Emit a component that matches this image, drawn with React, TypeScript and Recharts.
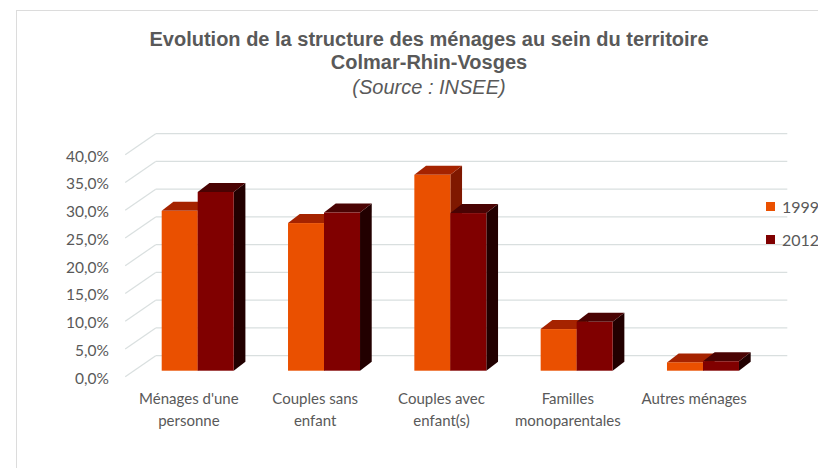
import React from "react";
import { BarChart, Bar, XAxis, YAxis, CartesianGrid } from "recharts";

const categories = [
  "Ménages d'une personne",
  "Couples sans enfant",
  "Couples avec enfant(s)",
  "Familles monoparentales",
  "Autres ménages",
];
const values1999 = [28.8, 26.6, 35.3, 7.5, 1.5];
const values2012 = [32.2, 28.5, 28.4, 8.8, 1.7];
const yTicks = [0, 5, 10, 15, 20, 25, 30, 35, 40];
const seriesNames = ["1999", "2012"];

const data = categories.map((name, i) => ({
  name,
  y1999: values1999[i],
  y2012: values2012[i],
}));

// fake 3D: depth of each column, and offsets from the column plane to the back wall / front edge
const DX = 11.7;
const DY = 9;
const WALL_DX = 21;
const WALL_DY = 15;
const FRONT_DX = 9.5;
const FRONT_DY = 6;

const TEXT = "#595959";
const GRID = "#d9dfdf";
const LABEL_FONT = "Lato, 'Open Sans', sans-serif";

const colors = {
  y1999: { front: "#ea5000", top: "#a52300", side: "#7f1800" },
  y2012: { front: "#800000", top: "#4a0303", side: "#220000" },
};

const fmtPct = (v: number) => v.toFixed(1).replace(".", ",") + "%";

function wrap(label: string, max = 14): string[] {
  const lines: string[] = [];
  let cur = "";
  for (const w of label.split(" ")) {
    if (!cur) cur = w;
    else if ((cur + " " + w).length <= max) cur += " " + w;
    else {
      lines.push(cur);
      cur = w;
    }
  }
  if (cur) lines.push(cur);
  return lines;
}

const makeShape = (c: { front: string; top: string; side: string }) => (props: any) => {
  const { x, y, width, height } = props;
  if (width == null || height == null) return <g />;
  const top = `${x},${y} ${x + DX},${y - DY} ${x + width + DX},${y - DY} ${x + width},${y}`;
  const side = `${x + width},${y} ${x + width + DX},${y - DY} ${x + width + DX},${y + height - DY} ${x + width},${y + height}`;
  return (
    <g>
      <polygon points={side} fill={c.side} />
      <polygon points={top} fill={c.top} />
      <rect x={x} y={y} width={width} height={height} fill={c.front} />
    </g>
  );
};

const gridLine = (props: any) => {
  const { x1, x2, y1, index } = props;
  return (
    <g key={`grid-${index}-${y1}`}>
      <line
        x1={x1 - FRONT_DX}
        y1={y1 + FRONT_DY}
        x2={x1 + WALL_DX}
        y2={y1 - WALL_DY}
        stroke={GRID}
        strokeWidth={1.2}
      />
      <line
        x1={x1 + WALL_DX}
        y1={y1 - WALL_DY}
        x2={x2 + WALL_DX}
        y2={y1 - WALL_DY}
        stroke={GRID}
        strokeWidth={1.2}
      />
    </g>
  );
};

const YTick = (props: any) => {
  const { x, y, payload } = props;
  return (
    <text
      x={x - 17.7}
      y={y + FRONT_DY + 1}
      textAnchor="end"
      dominantBaseline="central"
      fill={TEXT}
      fontSize={15.5}
      fontFamily={LABEL_FONT}
    >
      {fmtPct(payload.value)}
    </text>
  );
};

const XTick = (props: any) => {
  const { x, y, payload } = props;
  const lines = wrap(payload.value);
  return (
    <text
      x={x - 9}
      y={y + 19.3}
      textAnchor="middle"
      dominantBaseline="central"
      fill={TEXT}
      fontSize={15}
      fontFamily={LABEL_FONT}
    >
      {lines.map((l, i) => (
        <tspan key={i} x={x - 9} dy={i === 0 ? 0 : 22}>
          {l}
        </tspan>
      ))}
    </text>
  );
};

export default function App() {
  return (
    <div
      style={{
        position: "absolute",
        left: 0,
        top: 0,
        width: 818,
        height: 468,
        overflow: "hidden",
        background: "#fff",
      }}
    >
      {/* chart frame */}
      <div
        style={{
          position: "absolute",
          left: 16,
          top: 10,
          width: 900,
          height: 600,
          border: "1.5px solid #dcdcdc",
        }}
      />
      <div
        style={{
          position: "absolute",
          left: 29,
          top: 27.5,
          width: 800,
          textAlign: "center",
          fontFamily: "'Liberation Sans', Arial, sans-serif",
          fontSize: 20,
          lineHeight: "23.5px",
          color: TEXT,
          whiteSpace: "nowrap",
        }}
      >
        <div style={{ fontWeight: "bold" }}>
          Evolution de la structure des ménages au sein du territoire
        </div>
        <div style={{ fontWeight: "bold" }}>Colmar-Rhin-Vosges</div>
        <div style={{ fontStyle: "italic", marginTop: 1.5 }}>(Source : INSEE)</div>
      </div>

      <div style={{ position: "absolute", left: 0, top: 0 }}>
        <BarChart
          width={818}
          height={468}
          data={data}
          margin={{ top: 148.7, right: 51.7, bottom: 67.3, left: 74.7 }}
          barCategoryGap={27}
          barGap={0}
        >
          <CartesianGrid vertical={false} horizontal={gridLine} />
          <XAxis
            dataKey="name"
            axisLine={false}
            tickLine={false}
            height={30}
            interval={0}
            tick={<XTick />}
          />
          <YAxis
            type="number"
            domain={[0, 40]}
            ticks={yTicks}
            axisLine={false}
            tickLine={false}
            width={60}
            tick={<YTick />}
          />
          <Bar
            dataKey="y1999"
            name={seriesNames[0]}
            isAnimationActive={false}
            shape={makeShape(colors.y1999)}
          />
          <Bar
            dataKey="y2012"
            name={seriesNames[1]}
            isAnimationActive={false}
            shape={makeShape(colors.y2012)}
          />
        </BarChart>
      </div>

      {/* legend */}
      {seriesNames.map((s, i) => {
        const c = i === 0 ? colors.y1999 : colors.y2012;
        return (
          <div
            key={s}
            style={{
              position: "absolute",
              left: 766,
              top: 197 + i * 33,
              height: 19,
              display: "flex",
              alignItems: "center",
              gap: 7,
              fontFamily: LABEL_FONT,
              fontSize: 16,
              color: TEXT,
            }}
          >
            <span style={{ width: 9, height: 9, background: c.front, display: "inline-block" }} />
            <span>{s}</span>
          </div>
        );
      })}
    </div>
  );
}
